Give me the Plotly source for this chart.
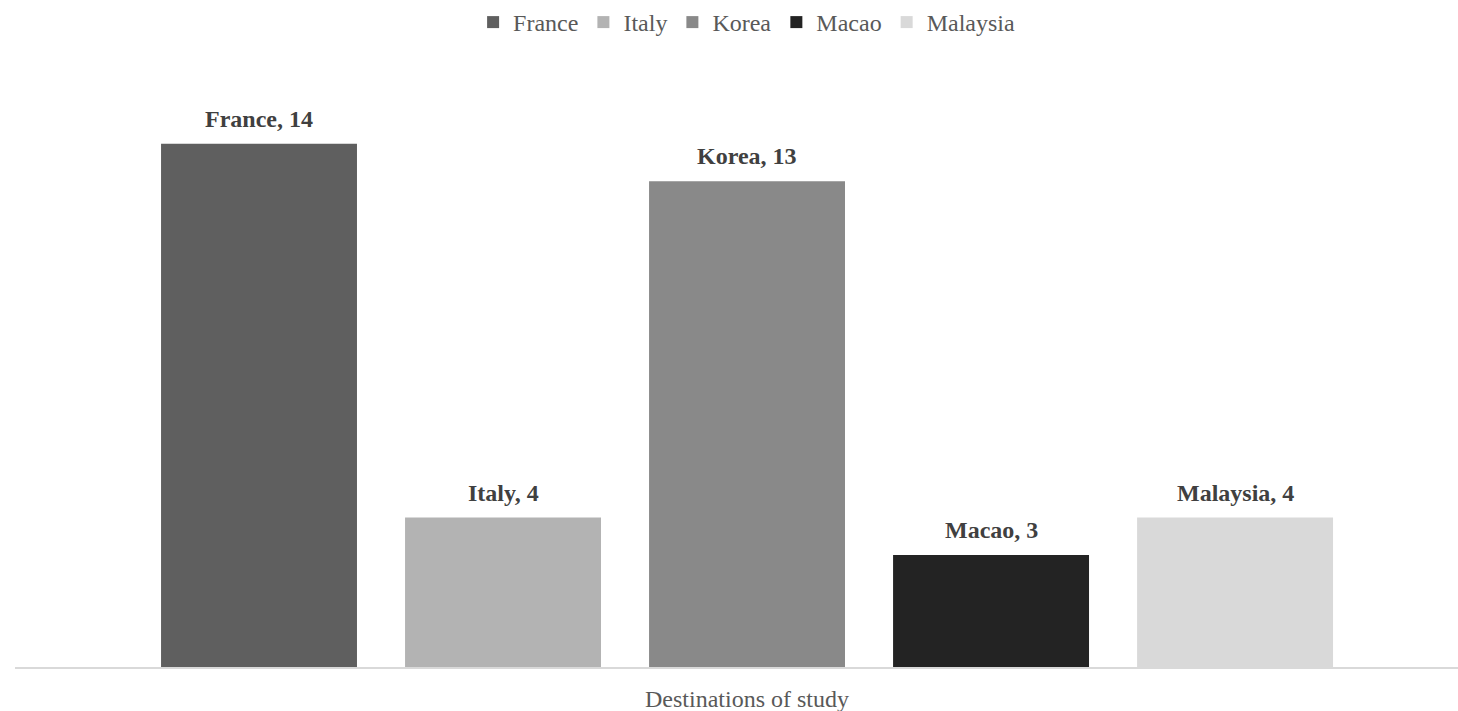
import plotly.graph_objects as go

category = "Destinations of study"
countries = ["France", "Italy", "Korea", "Macao", "Malaysia"]
students = [14, 4, 13, 3, 4]
colors = ["#5f5f5f", "#b3b3b3", "#898989", "#232323", "#d9d9d9"]

FONT = "Liberation Serif"
BARGAP = 0.1545
BARGROUPGAP = 0.197
MARGIN = dict(l=15, r=0, t=69, b=44)
WIDTH, HEIGHT = 1458, 711

fig = go.Figure()
for name, value, color in zip(countries, students, colors):
    fig.add_trace(go.Bar(
        name=name,
        x=[category],
        y=[value],
        marker=dict(color=color, line=dict(width=0)),
        hovertemplate=f"{name}: %{{y}}<extra></extra>",
    ))

# Data labels: one per bar, centred over its slot within the group
plot_w = WIDTH - MARGIN["l"] - MARGIN["r"]
slot_px = plot_w * (1 - BARGAP) / len(countries)
for i, (name, value) in enumerate(zip(countries, students)):
    fig.add_annotation(
        x=category, xref="x", y=value, yref="y",
        xshift=(i - (len(countries) - 1) / 2) * slot_px,
        yshift=10,
        yanchor="bottom",
        text=f"<b>{name}, {value}</b>",
        showarrow=False,
        font=dict(family=FONT, size=24, color="#404040"),
    )

fig.update_layout(
    width=WIDTH,
    height=HEIGHT,
    barmode="group",
    bargap=BARGAP,
    bargroupgap=BARGROUPGAP,
    plot_bgcolor="white",
    paper_bgcolor="white",
    margin=MARGIN,
    font=dict(family=FONT, color="#595959", size=24),
    legend=dict(
        orientation="h",
        x=0.507, xanchor="center",
        y=1.0, yanchor="top", yref="container",
        font=dict(family=FONT, size=24, color="#595959"),
        itemclick=False,
    ),
    xaxis=dict(
        range=[-0.5 - 0.0073, 0.5 - 0.0073],
        showline=True, linecolor="#d9d9d9", linewidth=2,
        ticks="outside", ticklen=9, tickcolor="rgba(0,0,0,0)",
        tickfont=dict(family=FONT, size=24, color="#595959"),
    ),
    yaxis=dict(range=[0, 16], showgrid=False, showticklabels=False,
               zeroline=False, showline=False),
    showlegend=True,
)

fig.write_html("out.html")
